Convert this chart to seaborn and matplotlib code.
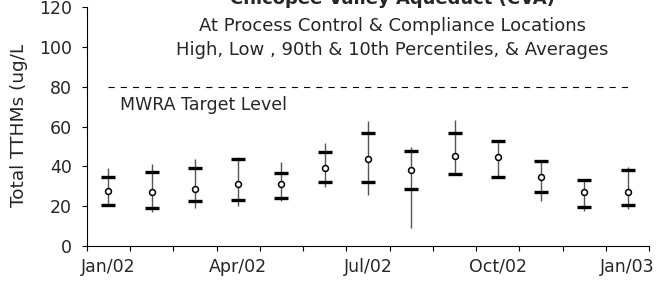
import numpy as np
import matplotlib
matplotlib.use("Agg")
import matplotlib.pyplot as plt
import seaborn as sns
from matplotlib.transforms import Bbox, TransformedBbox

# Monthly TTHM statistics (ug/L), Jan/02 - Jan/03
months = ["Jan/02", "Feb/02", "Mar/02", "Apr/02", "May/02", "Jun/02", "Jul/02",
          "Aug/02", "Sep/02", "Oct/02", "Nov/02", "Dec/02", "Jan/03"]
high = [39.4, 41.3, 43.7, 44.7, 42.2, 51.7, 62.6, 50.0, 63.5, 53.4, 43.3, 33.6, 39.9]
p90 = [34.8, 37.4, 39.1, 43.7, 36.6, 47.2, 56.8, 48.0, 56.8, 53.0, 42.7, 33.1, 38.3]
average = [27.7, 26.9, 28.5, 31.2, 31.2, 39.1, 43.7, 38.3, 45.3, 44.5, 34.8, 26.9, 26.9]
p10 = [20.7, 19.0, 22.7, 23.3, 24.3, 32.2, 32.1, 28.7, 36.4, 34.8, 26.9, 19.8, 20.7]
low = [20.3, 17.0, 19.3, 20.3, 22.7, 29.9, 25.4, 8.9, 36.0, 34.5, 22.8, 17.6, 18.6]
target_level = 80
tick_months = ["Jan/02", "Apr/02", "Jul/02", "Oct/02", "Jan/03"]

sns.set_style("ticks")
plt.rcParams["font.family"] = ["DejaVu Sans"]

fig = plt.figure(figsize=(6.6, 2.83), dpi=100)
ax = fig.add_axes([86.7 / 660, 1 - 246 / 283, (649.3 - 86.7) / 660, (246 - 7.3) / 283])

pos = np.arange(len(months))

# High / low whiskers
ax.vlines(pos, low, high, color="#555555", lw=1.0, zorder=2)

# 90th and 10th percentile bars
for values in [p90, p10]:
    sns.lineplot(x=pos, y=values, marker="_", linestyle="none", markersize=9.6,
                 markeredgewidth=2.4, markeredgecolor="black", color="black",
                 estimator=None, ax=ax, zorder=3)

# Averages
sns.scatterplot(x=pos, y=average, marker="o", s=18, facecolor="white",
                edgecolor="black", linewidth=1.1, ax=ax, zorder=4)

# Target level
sns.lineplot(x=pos, y=np.full(len(pos), target_level), color="black", lw=0.8,
             linestyle=(0, (5.5, 5.5)), estimator=None, ax=ax, zorder=1)
ax.text(0.27, 68.4, "MWRA Target Level", fontsize=12.5, va="baseline", ha="left")

ax.set_xlim(-0.5, len(months) - 0.5)
ax.set_ylim(0, 120)
ax.set_yticks(range(0, 121, 20))
ax.set_xticks([months.index(m) for m in tick_months])
ax.set_xticklabels(tick_months)
ax.set_xticks(np.arange(-0.5, len(months), 1), minor=True)
ax.tick_params(axis="x", which="major", length=0, pad=8.5, labelsize=12.5)
ax.tick_params(axis="x", which="minor", length=3.6, width=0.8, color="black")
ax.tick_params(axis="y", length=3.6, width=0.8, pad=7, labelsize=12.5, color="black")
for side in ["top", "right"]:
    ax.spines[side].set_visible(False)
for side in ["left", "bottom"]:
    ax.spines[side].set_color("black")
    ax.spines[side].set_linewidth(0.8)

# Titles (top line is cut off in the original)
fig.text(392 / 660, 1 - 4 / 283, "Chicopee Valley Aqueduct (CVA)", fontsize=13,
         fontweight="bold", ha="center", va="baseline")
fig.text(392 / 660, 1 - 31 / 283, "At Process Control & Compliance Locations",
         fontsize=13, ha="center", va="baseline")
fig.text(392 / 660, 1 - 55 / 283, "High, Low , 90th & 10th Percentiles, & Averages",
         fontsize=13, ha="center", va="baseline")

ylab = fig.text(19 / 660, 1 - 207 / 283, "Total TTHMs (ug/L)", fontsize=13.3,
                rotation=90, ha="center", va="bottom")
ylab.set_clip_box(TransformedBbox(Bbox([[0, 0], [1, 1 - 45 / 283]]), fig.transFigure))
ylab.set_clip_on(True)

plt.savefig("out.png", dpi=100)
